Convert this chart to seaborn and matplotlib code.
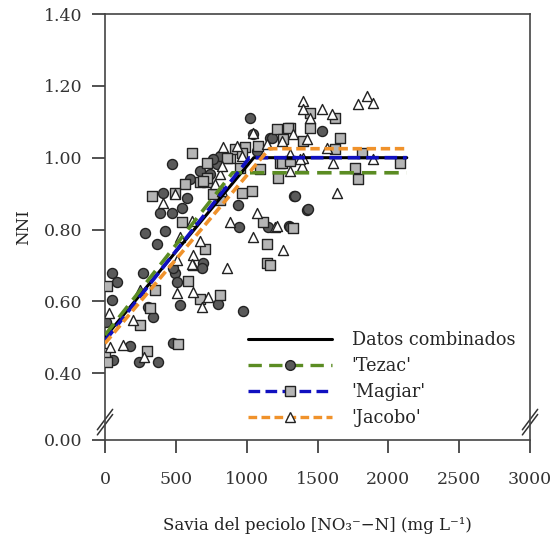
import numpy as np
import pandas as pd
import matplotlib
matplotlib.use("Agg")
import matplotlib.pyplot as plt
from matplotlib.lines import Line2D
import seaborn as sns

tezac_x = [1024, 473, 410, 388, 473, 543, 579, 282, 367, 424, 939, 946, 1150, 49, 268,
           671, 741, 791, 1045, 1165, 692, 494, 85, 49, 7, 56, 176, 240, 374, 304, 339,
           480, 508, 529, 798, 974, 480, 685, 1334, 1426, 1299, 1532, 1073, 812, 762,
           1179, 1341, 1433, 1306, 600]
tezac_y = [1.111, 0.983, 0.903, 0.847, 0.847, 0.861, 0.889, 0.789, 0.761, 0.797, 0.867,
           0.806, 0.806, 0.678, 0.678, 0.964, 0.955, 0.983, 1.066, 1.056, 0.706, 0.678,
           0.653, 0.603, 0.542, 0.436, 0.475, 0.430, 0.430, 0.583, 0.556, 0.694, 0.653,
           0.589, 0.594, 0.572, 0.483, 0.694, 0.894, 0.853, 0.811, 1.075, 1.019, 1.006,
           0.997, 1.056, 0.894, 0.858, 0.806, 0.940]

magiar_x = [614, 332, 565, 494, 671, 720, 882, 953, 988, 1214, 812, 762, 967, 1038, 543,
            706, 1115, 1143, 1143, 14, 0, 14, 296, 353, 318, 247, 586, 671, 812, 515,
            1327, 1447, 1624, 1447, 1306, 1659, 1624, 1814, 2082, 1765, 1786, 1235, 1221,
            1292, 1256, 1080, 1398, 918, 967, 861, 720, 720, 1249, 1306, 1094, 692, 1165]
magiar_y = [1.014, 0.894, 0.928, 0.903, 0.931, 0.931, 1.000, 0.972, 1.030, 1.080, 0.881,
            0.900, 0.903, 0.908, 0.820, 0.747, 0.820, 0.761, 0.706, 0.642, 0.456, 0.430,
            0.461, 0.631, 0.581, 0.533, 0.656, 0.606, 0.617, 0.481, 0.803, 1.125, 1.111,
            1.083, 1.083, 1.056, 1.025, 1.014, 0.986, 0.972, 0.942, 0.986, 0.944, 1.083,
            1.053, 1.033, 1.047, 1.025, 1.014, 1.000, 0.986, 0.944, 0.986, 0.992, 0.969,
            0.936, 0.700]

jacobo_x = [410, 494, 1073, 882, 1045, 1200, 861, 833, 932, 1045, 1143, 812, 614, 529,
            671, 621, 621, 508, 28, 35, 127, 275, 247, 198, 508, 621, 685, 727, 614, 1256,
            1849, 1786, 1892, 1398, 1398, 1532, 1602, 1447, 1327, 1426, 1249, 1567, 1306,
            1398, 1610, 1892, 1391, 1306, 1638, 967, 826, 777, 826, 1377, 1214]
jacobo_y = [0.875, 0.900, 0.847, 0.820, 0.778, 0.806, 0.694, 1.030, 1.033, 1.070, 1.039,
            0.955, 0.825, 0.778, 0.769, 0.728, 0.700, 0.714, 0.567, 0.472, 0.478, 0.444,
            0.633, 0.547, 0.622, 0.625, 0.583, 0.611, 0.703, 0.744, 1.172, 1.150, 1.153,
            1.158, 1.136, 1.136, 1.122, 1.111, 1.066, 1.053, 1.047, 1.028, 1.011, 1.000,
            0.986, 0.997, 0.978, 0.964, 0.903, 1.006, 0.978, 0.928, 0.908, 0.997, 0.811]

# linear-plateau fits (start, break point, end)
comb_line_x = [0, 1050, 2130]
comb_line_y = [0.500, 1.000, 1.000]
tezac_line_x = [0, 900, 2130]
tezac_line_y = [0.506, 0.958, 0.958]
magiar_line_x = [0, 1020, 2130]
magiar_line_y = [0.490, 1.000, 1.000]
jacobo_line_x = [0, 1160, 2130]
jacobo_line_y = [0.483, 1.025, 1.025]

legend_labels = ["Datos combinados", "'Tezac'", "'Magiar'", "'Jacobo'"]

sns.set_style("ticks")
plt.rcParams["font.family"] = ["DejaVu Serif"]

fig = plt.figure(figsize=(5.55, 5.41), dpi=100)
ax = fig.add_axes([0.1892, 0.1867, 0.7658, 0.7874])

green = "#5b8c23"
blue = "#1010c0"
orange = "#f0922b"

pts_style = dict(s=52, edgecolor="#222222", linewidth=1.0, ax=ax, zorder=3, legend=False)
sns.scatterplot(x=tezac_x, y=tezac_y, marker="o", color="#5a5a5a", **pts_style)
sns.scatterplot(x=magiar_x, y=magiar_y, marker="s", color="#b5b5b5", **pts_style)
sns.scatterplot(x=jacobo_x, y=jacobo_y, marker="^", color="white", **pts_style)

sns.lineplot(x=comb_line_x, y=comb_line_y, color="black", lw=2.2, ax=ax, zorder=4)
sns.lineplot(x=tezac_line_x, y=tezac_line_y, color=green, lw=2.6, ax=ax, zorder=4)
ax.lines[-1].set_dashes([4, 2.2])
sns.lineplot(x=magiar_line_x, y=magiar_line_y, color=blue, lw=2.6, ax=ax, zorder=4)
ax.lines[-1].set_dashes([3.5, 1.6])
sns.lineplot(x=jacobo_line_x, y=jacobo_line_y, color=orange, lw=2.6, ax=ax, zorder=4)
ax.lines[-1].set_dashes([2.6, 1.3])

ax.set_xlim(0, 3000)
ax.set_ylim(0.214, 1.40)
ax.set_xticks([0, 500, 1000, 1500, 2000, 2500, 3000])
ax.set_yticks([0.214, 0.4, 0.6, 0.8, 1.0, 1.2, 1.4])
ax.set_yticklabels(["0.00", "0.40", "0.60", "0.80", "1.00", "1.20", "1.40"])
ax.tick_params(axis="both", direction="out", length=9.5, width=1.2, labelsize=12.5,
               colors="#333333")
ax.tick_params(axis="x", pad=13)
ax.tick_params(axis="y", pad=7)
for sp in ax.spines.values():
    sp.set_color("#444444")
    sp.set_linewidth(1.2)

ax.set_xlabel("Savia del peciolo [NO\u2083\u207b\u2212N] (mg L\u207b\u00b9)", fontsize=12,
              color="#222222", labelpad=21)
ax.set_ylabel("NNI", fontsize=12, color="#222222", labelpad=8)

# axis break marks
for xb in (0.0, 1.0):
    for dy in (0.0, 0.012):
        ax.plot([xb - 0.018, xb + 0.018], [0.012 + dy, 0.060 + dy],
                transform=ax.transAxes, color="#333333", lw=1.1, clip_on=False)

handles = [
    Line2D([], [], color="black", lw=2.2),
    Line2D([], [], color=green, lw=2.4, dashes=[4, 2.2], marker="o", markersize=7,
           markerfacecolor="#5a5a5a", markeredgecolor="#222222"),
    Line2D([], [], color=blue, lw=2.4, dashes=[3.5, 1.6], marker="s", markersize=6.5,
           markerfacecolor="#b5b5b5", markeredgecolor="#222222"),
    Line2D([], [], color=orange, lw=2.4, dashes=[2.6, 1.3], marker="^", markersize=7,
           markerfacecolor="white", markeredgecolor="#222222"),
]
ax.legend(handles, legend_labels, loc="lower right", bbox_to_anchor=(0.99, 0.005),
          frameon=False, fontsize=12.7, handlelength=4.8, handletextpad=1.1,
          labelspacing=0.45, borderaxespad=0.2, numpoints=1)

fig.savefig("out.png", dpi=100)
